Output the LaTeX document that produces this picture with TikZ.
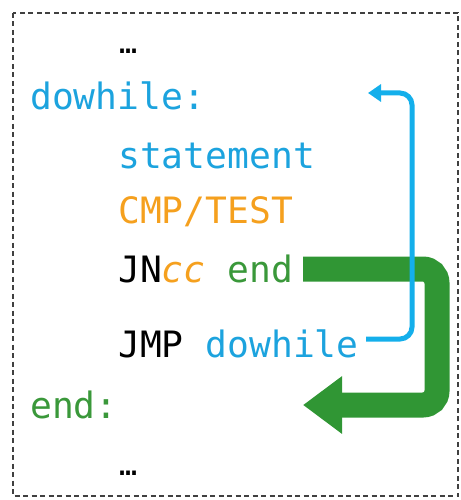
\documentclass[tikz,border=0pt]{standalone}
\usepackage{fontspec}
\setmonofont{DejaVu Sans Mono}
\usetikzlibrary{arrows.meta}
\definecolor{cblue}{RGB}{28,163,222}
\definecolor{ablue}{RGB}{20,175,235}
\definecolor{cgreen}{RGB}{58,152,58}
\definecolor{agreen}{RGB}{48,150,52}
\definecolor{corange}{RGB}{245,160,30}
\begin{document}
\begin{tikzpicture}[x=1pt,y=-1pt,
  code/.style={anchor=base west, inner sep=0pt, font=\fontsize{36.3}{40}\selectfont\ttfamily},
  dotsstyle/.style={anchor=base west, inner sep=0pt, font=\fontsize{30}{34}\selectfont\ttfamily},
  frame/.style={draw=black!75, line width=1.3pt, dash pattern=on 5pt off 3.5pt},
  loopback/.style={draw=ablue, line width=5pt, rounded corners=12pt, -{Triangle[length=13pt,width=17pt]}},
  exitjump/.style={draw=agreen, line width=25pt, rounded corners=14pt, -{Triangle[length=39pt,width=55pt]}}]
\useasboundingbox (0,0) rectangle (460,500);
\draw[frame] (13,13) rectangle (458,496);
\node[dotsstyle] (dots1) at (119,54) {…};
\node[code, text=cblue] (dw) at (30,110) {dowhile:};
\node[code, text=cblue] (st) at (118,168) {statement};
\node[code, text=corange] (cmp) at (118,223) {CMP/TEST};
\node[code] (jn) at (118,282) {JN\textcolor{corange}{\itshape cc} \textcolor{cgreen}{end}};
\node[code] (jmp) at (118,357) {JMP \textcolor{cblue}{dowhile}};
\node[code, text=cgreen] (en) at (30,418) {end:};
\node[dotsstyle] (dots2) at (119,475) {…};
\coordinate (gs) at (303,269);
\coordinate (ge) at (303,405);
\coordinate (bs) at (366,339);
\coordinate (be) at (368,93);
\draw[exitjump] (gs) -- (437,269) -- (437,405) -- (ge);
\draw[loopback] (bs) -- (412,339) -- (412,93) -- (be);
\end{tikzpicture}
\end{document}
